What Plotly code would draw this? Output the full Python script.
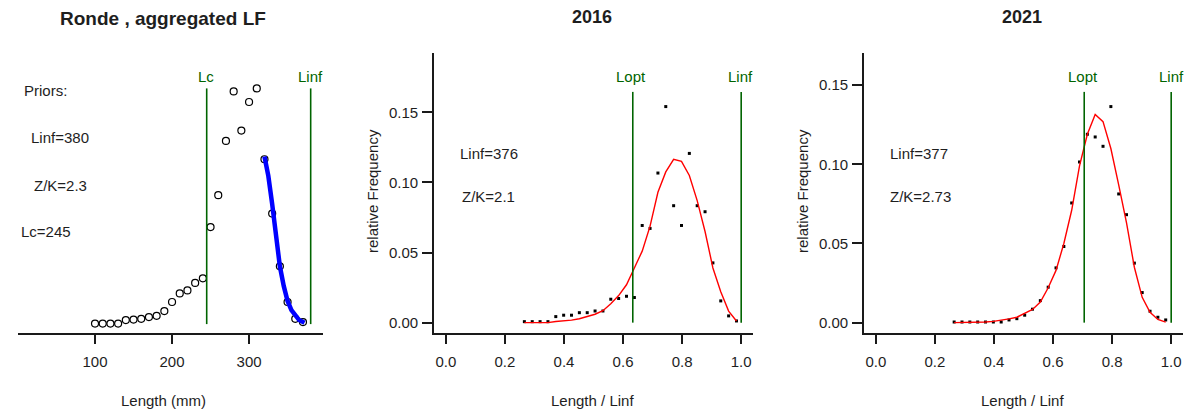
import plotly.graph_objects as go

W, H = 1201, 413

# ---------------- data ----------------
lengths_mm = [100, 110, 120, 130, 140, 150, 160, 170, 180, 190, 200, 210, 220, 230,
              240, 250, 260, 270, 280, 290, 300, 310, 320, 330, 340, 350, 360, 370]

# aggregated length frequency (relative units)
agg_freq = [2, 2, 2, 2, 16, 18, 21, 28, 33, 52, 88, 122, 134, 164,
            182, 386, 513, 729, 926, 770, 884, 938, 656, 440, 230, 88, 21, 8]

# catch-curve fit (blue)
fit_len = [320, 325, 330, 335, 340, 345, 350, 355, 360, 365, 372]
fit_val = [667, 590, 478, 352, 230, 152, 92, 56, 32, 16, 5]

prior_linf = 380
prior_zk = 2.3
prior_lc = 245

# 2016
linf_2016 = 376
zk_2016 = 2.1
lopt_2016 = 238
obs_2016 = [0.0007, 0.0007, 0.0007, 0.0007, 0.0043, 0.0053, 0.0053, 0.0071, 0.0071, 0.0083,
            0.0083, 0.0167, 0.0172, 0.0188, 0.0179, 0.0693, 0.0672, 0.1067, 0.1541, 0.0834,
            0.0693, 0.1207, 0.0834, 0.0791, 0.0426, 0.0155, 0.0048, 0.0012]
fit_2016 = [0, 0, 0, 0, 0.0008, 0.0012, 0.0018, 0.0028, 0.0042, 0.006,
            0.0085, 0.0135, 0.0193, 0.027, 0.039, 0.051, 0.0688, 0.093, 0.1075, 0.1165,
            0.115, 0.105, 0.087, 0.065, 0.039, 0.022, 0.0082, 0.0012]

# 2021
linf_2021 = 377
zk_2021 = 2.73
lopt_2021 = 266
obs_2021 = [0.0004, 0.0004, 0.0004, 0.0004, 0.0004, 0.0004, 0.0004, 0.0017, 0.0025, 0.0047,
            0.0085, 0.0139, 0.0224, 0.0346, 0.0481, 0.0756, 0.1015, 0.119, 0.1173, 0.1114,
            0.1365, 0.0813, 0.0682, 0.0376, 0.019, 0.0072, 0.0034, 0.0017]
fit_2021 = [0, 0, 0, 0, 0.0004, 0.0008, 0.0014, 0.0024, 0.0034, 0.0058,
            0.0083, 0.013, 0.022, 0.033, 0.050, 0.071, 0.099, 0.119, 0.1315, 0.127,
            0.110, 0.087, 0.063, 0.035, 0.016, 0.0065, 0.002, 0.0003]

xticks_rel = [0.0, 0.2, 0.4, 0.6, 0.8, 1.0]
yticks_rel = [0.0, 0.05, 0.10, 0.15]
xticks_mm = [100, 200, 300]

# ---------------- styles ----------------
FONT = "Liberation Sans, Arial, sans-serif"
TXT = "#1e1e1e"
GREEN = "#006400"
AX = "#1a1a1a"


def px(x):
    return x / W


def py(y):
    return 1 - y / H


fig = go.Figure()

# ---- panel 1 ----
fig.add_trace(go.Scatter(x=lengths_mm, y=agg_freq, mode="markers",
                         marker=dict(symbol="circle-open", size=7, color="black",
                                     line=dict(width=1.2, color="black")),
                         xaxis="x", yaxis="y", hoverinfo="skip"))
fig.add_trace(go.Scatter(x=fit_len, y=fit_val, mode="lines",
                         line=dict(color="#0000ff", width=4.5),
                         xaxis="x", yaxis="y", hoverinfo="skip"))
ymax1 = max(agg_freq)
for xv in (prior_lc, prior_linf):
    fig.add_shape(type="line", xref="x", yref="y", x0=xv, x1=xv, y0=0, y1=ymax1,
                  line=dict(color=GREEN, width=1.6))

# ---- panel 2 & 3 ----
rel16 = [l / linf_2016 for l in lengths_mm]
rel21 = [l / linf_2021 for l in lengths_mm]
for rel, obs, fit, xa, ya, lopt, linf in (
        (rel16, obs_2016, fit_2016, "x2", "y2", lopt_2016, linf_2016),
        (rel21, obs_2021, fit_2021, "x3", "y3", lopt_2021, linf_2021)):
    fig.add_trace(go.Scatter(x=rel, y=obs, mode="markers",
                             marker=dict(symbol="square", size=3, color="black",
                                         line=dict(width=0)),
                             xaxis=xa, yaxis=ya, hoverinfo="skip"))
    fig.add_trace(go.Scatter(x=rel, y=fit, mode="lines",
                             line=dict(color="red", width=1.4),
                             xaxis=xa, yaxis=ya, hoverinfo="skip"))
    top = 1.068 * max(obs)
    for xv in (lopt / linf, 1.0):
        fig.add_shape(type="line", xref=xa, yref=ya, x0=xv, x1=xv, y0=0, y1=top,
                      line=dict(color=GREEN, width=1.6))

# ---------------- axes ----------------
common_x = dict(showline=True, linecolor=AX, linewidth=1.6, ticks="outside",
                ticklen=9, tickwidth=1.6, tickcolor=AX, showgrid=False, zeroline=False,
                tickfont=dict(family=FONT, size=15, color=TXT), ticklabelstandoff=5)
common_y = dict(showline=True, linecolor=AX, linewidth=1.6, ticks="outside",
                ticklen=10, tickwidth=1.6, tickcolor=AX, showgrid=False, zeroline=False,
                tickfont=dict(family=FONT, size=15, color=TXT), ticklabelstandoff=1)

ylo1 = min(agg_freq) - 0.04 * (ymax1 - min(agg_freq))
yhi1 = ymax1 + 0.04 * (ymax1 - min(agg_freq))

m16 = 1.2 * max(obs_2016)
m21 = 1.2 * max(obs_2021)

fig.update_layout(
    width=W, height=H, margin=dict(l=0, r=0, t=0, b=0),
    paper_bgcolor="white", plot_bgcolor="white", showlegend=False,
    xaxis=dict(domain=[px(18), px(323)], range=[0, 396], anchor="y",
               tickvals=xticks_mm, **common_x),
    yaxis=dict(domain=[py(333), py(79)], range=[ylo1, yhi1], anchor="x", visible=False),
    xaxis2=dict(domain=[px(434), px(753)], range=[-0.04, 1.04], anchor="y2",
                tickvals=xticks_rel, tickformat=".1f", **common_x),
    yaxis2=dict(domain=[py(333), py(53)], range=[-0.04 * m16, 1.04 * m16], anchor="x2",
                tickvals=yticks_rel, tickformat=".2f", **common_y),
    xaxis3=dict(domain=[px(864), px(1183)], range=[-0.04, 1.04], anchor="y3",
                tickvals=xticks_rel, tickformat=".1f", **common_x),
    yaxis3=dict(domain=[py(333), py(53)], range=[-0.04 * m21, 1.04 * m21], anchor="x3",
                tickvals=yticks_rel, tickformat=".2f", **common_y),
)


def ann(text, x, y, size=15, color=TXT, bold=False, angle=0):
    fig.add_annotation(text=("<b>%s</b>" % text) if bold else text,
                       x=px(x), y=py(y), xref="paper", yref="paper",
                       xanchor="center", yanchor="middle", showarrow=False,
                       textangle=angle,
                       font=dict(family=FONT, size=size, color=color))


# titles
ann("Ronde , aggregated LF", 163.5, 18, size=19, bold=True)
ann(str(2016), 592, 17, size=18, bold=True)
ann(str(2021), 1022, 17, size=18, bold=True)

# axis titles
ann("Length (mm)", 163.5, 400)
ann("Length / Linf", 592.5, 400)
ann("Length / Linf", 1022, 400)
ann("relative Frequency", 373, 191, angle=-90)
ann("relative Frequency", 803, 191, angle=-90)

# panel 1 texts
ann("Priors:", 45, 90.5)
ann("Linf=%d" % prior_linf, 60, 138)
ann("Z/K=%s" % prior_zk, 60, 185)
ann("Lc=%d" % prior_lc, 46, 231.5)
ann("Lc", 206, 76.5, color=GREEN)
ann("Linf", 310.5, 76.5, color=GREEN)

# panel 2 texts
ann("Linf=%d" % linf_2016, 489, 153)
ann("Z/K=%s" % zk_2016, 488, 196.5)
ann("Lopt", 630.5, 76, color=GREEN)
ann("Linf", 740, 76, color=GREEN)

# panel 3 texts
ann("Linf=%d" % linf_2021, 919, 153)
ann("Z/K=%s" % zk_2021, 920, 196)
ann("Lopt", 1083, 76, color=GREEN)
ann("Linf", 1171, 76, color=GREEN)

fig.write_html("out.html", config={"displayModeBar": False},
               post_script="document.body.style.margin='0';document.body.style.overflow='hidden';")
